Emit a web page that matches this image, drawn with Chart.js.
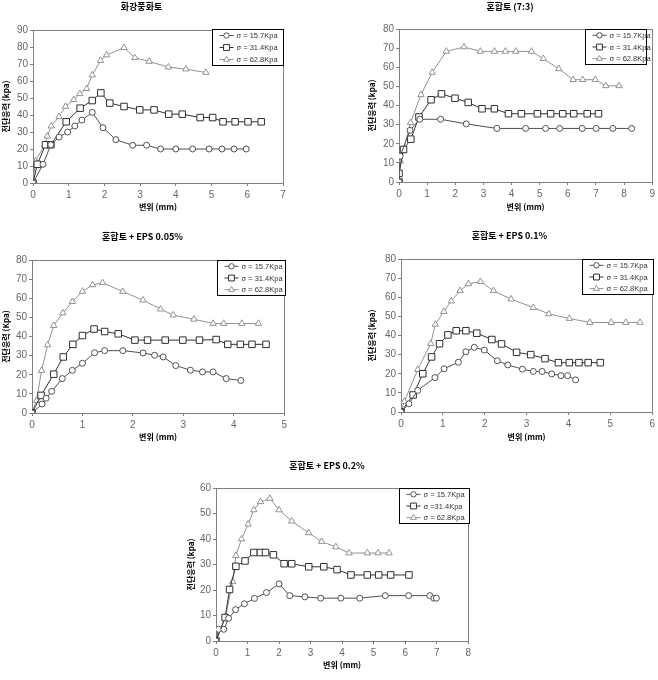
<!DOCTYPE html>
<html>
<head>
<meta charset="utf-8">
<script src="https://cdn.jsdelivr.net/npm/chart.js@4.4.1/dist/chart.umd.min.js"></script>
<style>
  body { margin: 0; background: #fff; width: 658px; height: 680px; position: relative; overflow: hidden; }
  canvas { position: absolute; }
</style>
</head>
<body>
<div id="wrap"></div>
<script>
// values: [displacement mm, shear stress kPa]
// 화강풍화토
const granite157 = [[0,0],[0.28,11],[0.5,22.5],[0.73,27],[0.97,30],[1.17,33.5],[1.37,37],[1.66,41.5],[1.96,32.5],[2.32,25.5],[2.79,22.2],[3.18,22.2],[3.57,20],[4.0,20],[4.47,20],[4.93,20],[5.29,20],[5.63,20],[5.97,20]];
const granite314 = [[0,0],[0.12,11],[0.35,22.5],[0.5,22.5],[0.93,36],[1.32,44],[1.66,48.5],[1.9,53],[2.15,47],[2.55,45],[2.99,43],[3.39,43],[3.8,40.5],[4.18,40.5],[4.68,38.5],[5.03,38.5],[5.32,36],[5.66,36],[6.02,36],[6.39,36]];
const granite628 = [[0,0],[0.07,13],[0.33,22.5],[0.4,27.5],[0.51,33.5],[0.73,39],[0.91,45],[1.14,49],[1.31,52.5],[1.5,55.5],[1.66,63.5],[1.89,72],[2.06,75.3],[2.55,79.6],[2.85,73.7],[3.25,71.5],[3.79,68.2],[4.28,67],[4.84,65]];

// 혼합토 (7:3)
const mix157 = [[0,0],[0.04,13.5],[0.39,27],[0.74,32.8],[1.48,32.8],[2.39,30.4],[3.48,28],[4.5,28],[5.21,28],[5.71,28],[6.51,28],[7.01,28],[7.6,28],[8.27,28]];
const mix314 = [[0,0],[0,4.5],[0.16,17],[0.42,22.4],[0.71,34],[1.14,43],[1.51,46.1],[1.99,43.8],[2.46,41.6],[2.95,38.3],[3.39,38.3],[3.89,35.7],[4.35,35.7],[4.92,35.7],[5.39,35.7],[5.82,35.7],[6.21,35.7],[6.69,35.7],[7.09,35.7]];
const mix628 = [[0,0],[0.05,11],[0.41,31],[0.78,45.6],[1.18,57.3],[1.68,68.3],[2.31,70.6],[2.89,68.3],[3.39,68.3],[3.78,68.3],[4.15,68.3],[4.71,68.3],[5.13,64.5],[5.68,59.2],[6.19,53.5],[6.53,53.5],[6.98,53.5],[7.35,50.3],[7.82,50.3]];

// 혼합토 + EPS 0.05%
const eps005_157 = [[0,0],[0.2,4.7],[0.28,7.7],[0.39,11.3],[0.6,18],[0.8,22.3],[1.0,26],[1.24,31.5],[1.44,32.6],[1.8,32.6],[2.2,31.4],[2.43,30.2],[2.6,29.3],[2.85,24.8],[3.14,22.4],[3.38,21.5],[3.59,21.5],[3.85,18],[4.14,17]];
const eps005_314 = [[0,0],[0.18,9.2],[0.43,20.3],[0.62,29.3],[0.81,35.9],[1.0,40.5],[1.23,43.9],[1.44,42.6],[1.71,41.4],[2.04,38.1],[2.29,38.1],[2.64,38.1],[2.99,38.1],[3.32,38.1],[3.65,38.4],[3.88,35.9],[4.13,35.9],[4.36,35.9],[4.64,35.9]];
const eps005_628 = [[0,0],[0.09,6.5],[0.19,22.2],[0.31,35.6],[0.43,45.7],[0.61,52.3],[0.8,58.2],[1.0,63.6],[1.2,67],[1.4,68.1],[1.8,63.5],[2.2,59],[2.55,54.3],[2.8,51.2],[3.21,49],[3.59,46.8],[3.8,46.8],[4.16,46.8],[4.49,46.8]];

// 혼합토 + EPS 0.1%
const eps01_157 = [[0,0],[0.19,4.3],[0.4,11.3],[0.81,18],[1.03,22.6],[1.37,26],[1.55,31.5],[1.75,33.8],[1.99,32.4],[2.3,26.8],[2.55,24.6],[2.9,22.4],[3.16,21.2],[3.37,21.2],[3.6,19.9],[3.82,19],[3.98,19],[4.17,16.8]];
const eps01_314 = [[0,0],[0.29,8.9],[0.52,20],[0.73,28.8],[0.92,35.7],[1.12,40.3],[1.32,42.5],[1.55,42.5],[1.81,41.2],[2.17,37.9],[2.4,35.6],[2.76,31.2],[3.1,30],[3.44,27.9],[3.76,25.8],[4.02,25.8],[4.25,25.8],[4.47,25.8],[4.76,25.8]];
const eps01_628 = [[0,0],[0.08,5.5],[0.4,22.2],[0.71,35.8],[0.82,45.8],[1.02,52.5],[1.2,58],[1.41,63.4],[1.61,67],[1.9,68.2],[2.21,63.4],[2.63,59],[3.16,54.6],[3.53,51.3],[4.02,48.9],[4.51,46.8],[5.02,46.8],[5.37,46.8],[5.71,46.8]];

// 혼합토 + EPS 0.2%
const eps02_157 = [[0,0],[0.08,4.6],[0.25,4.6],[0.4,8.9],[0.62,12.3],[0.9,14.6],[1.22,16.7],[1.6,19],[2.0,22.4],[2.34,17.8],[2.82,17.3],[3.32,16.8],[3.96,16.8],[4.56,16.8],[5.37,17.8],[6.11,17.8],[6.78,17.8],[6.91,16.8],[6.99,16.8]];
const eps02_314 = [[0,0],[0.29,9.2],[0.43,20.2],[0.63,29.3],[0.92,31.4],[1.2,34.7],[1.41,34.7],[1.57,34.7],[1.82,33.8],[2.16,30.3],[2.4,30.3],[2.94,29.1],[3.42,29.1],[3.84,28],[4.28,25.9],[4.8,25.9],[5.16,25.9],[5.54,25.9],[6.12,25.9]];
const eps02_628 = [[0,0],[0.3,9.5],[0.53,23.3],[0.63,33.5],[0.81,40],[1.02,45.8],[1.2,51.4],[1.41,54.6],[1.71,55.9],[2.0,51.4],[2.4,47],[2.94,42.4],[3.35,39],[3.8,36.9],[4.22,34.5],[4.8,34.5],[5.14,34.5],[5.49,34.5]];

const legendLabels = ['σ = 15.7Kpa', 'σ = 31.4Kpa', 'σ = 62.8Kpa'];
const legendLabels5 = ['σ = 15.7Kpa', 'σ =31.4Kpa', 'σ = 62.8Kpa'];

const seriesColors = ['#505050', '#303030', '#929292'];
const pointStyles = ['circle', 'rect', 'triangle'];
const pointSizes = [3, 4.6, 3.7];

const KR = '"Noto Sans CJK KR", "Noto Sans", sans-serif';
const NUM = '"Liberation Sans", Arial, sans-serif';

// page layout (px): canvas [left, top, right, bottom], plot [left, top, right, bottom], legend [left, top, w, h]
const panels = [
  { title: '화강풍화토', yTitle: '전단응력 (kpa)', xMax: 7, yMax: 90,
    series: [granite157, granite314, granite628], labels: legendLabels,
    canvas: [0, 0, 290, 215], plot: [33, 30, 283, 183], titleY: 7, legend: [212, 29, 71, 36] },
  { title: '혼합토 (7:3)', yTitle: '전단응력 (kpa)', xMax: 9, yMax: 80,
    series: [mix157, mix314, mix628], labels: legendLabels,
    canvas: [366, 0, 658, 215], plot: [399, 29, 654, 182], titleY: 7, legend: [585, 29, 61, 35] },
  { title: '혼합토 + EPS 0.05%', yTitle: '전단응력 (Kpa)', xMax: 5, yMax: 80,
    series: [eps005_157, eps005_314, eps005_628], labels: legendLabels,
    canvas: [0, 229, 290, 445], plot: [32, 260, 285, 413], titleY: 237, legend: [217, 260, 68, 35] },
  { title: '혼합토 + EPS 0.1%', yTitle: '전단응력 (kpa)', xMax: 6, yMax: 80,
    series: [eps01_157, eps01_314, eps01_628], labels: legendLabels,
    canvas: [366, 228, 658, 445], plot: [401, 259, 653, 412], titleY: 236, legend: [582, 259, 71, 35] },
  { title: '혼합토 + EPS 0.2%', yTitle: '전단응력 (kpa)', xMax: 8, yMax: 60,
    series: [eps02_157, eps02_314, eps02_628], labels: legendLabels5,
    canvas: [185, 458, 474, 673], plot: [216, 488, 469, 641], titleY: 466, legend: [399, 488, 70, 35] }
];

function drawMarker(ctx, style, x, y, r) {
  ctx.beginPath();
  if (style === 'circle') {
    ctx.arc(x, y, r, 0, Math.PI * 2);
  } else if (style === 'rect') {
    const s = r * Math.SQRT1_2;
    ctx.rect(x - s, y - s, 2 * s, 2 * s);
  } else {
    ctx.moveTo(x, y - r);
    ctx.lineTo(x + r * 0.866, y + r * 0.5);
    ctx.lineTo(x - r * 0.866, y + r * 0.5);
    ctx.closePath();
  }
  ctx.fill();
  ctx.stroke();
}

// frame around plot area + legend box inside the top-right corner
const framePlugin = {
  id: 'frameLegend',
  beforeDatasetsDraw(chart) {
    const a = chart.chartArea;
    const ctx = chart.ctx;
    ctx.save();
    ctx.strokeStyle = '#808080';
    ctx.lineWidth = 1;
    ctx.strokeRect(Math.round(a.left) + 0.5, Math.round(a.top) + 0.5, Math.round(a.right - a.left), Math.round(a.bottom - a.top));
    ctx.restore();
  },
  afterDraw(chart, args, opts) {
    const ctx = chart.ctx;
    const [lx, ly, lw, lh] = opts.box;
    const x0 = Math.round(lx - opts.offset[0]) + 0.5;
    const y0 = Math.round(ly - opts.offset[1]) + 0.5;
    ctx.save();
    ctx.fillStyle = '#fff';
    ctx.fillRect(x0, y0, lw, lh);
    ctx.strokeStyle = '#000';
    ctx.lineWidth = 1;
    ctx.strokeRect(x0, y0, lw, lh);
    chart.data.datasets.forEach((ds, i) => {
      const y = y0 + lh * (2 * i + 1) / 6;
      ctx.strokeStyle = ds.borderColor;
      ctx.beginPath();
      ctx.moveTo(x0 + 7, y);
      ctx.lineTo(x0 + 21, y);
      ctx.stroke();
      ctx.fillStyle = '#fff';
      drawMarker(ctx, pointStyles[i], x0 + 14, y, pointSizes[i] * 0.9);
      ctx.fillStyle = '#333';
      ctx.font = '7.5px ' + NUM;
      ctx.textBaseline = 'middle';
      ctx.textAlign = 'left';
      ctx.fillText(ds.label, x0 + 24, y + 0.5);
    });
    ctx.restore();
  }
};

const wrap = document.getElementById('wrap');

panels.forEach((p, n) => {
  const [cl, ct, cr, cb] = p.canvas;
  const [pl, pt, pr, pb] = p.plot;
  const cv = document.createElement('canvas');
  cv.width = cr - cl;
  cv.height = cb - ct;
  cv.style.left = cl + 'px';
  cv.style.top = ct + 'px';
  wrap.appendChild(cv);

  const titleLine = 9 * 1.2;
  const titleTop = p.titleY - ct - titleLine / 2;
  const titleBottom = pt - ct - titleTop - titleLine;

  new Chart(cv.getContext('2d'), {
    type: 'line',
    data: {
      datasets: p.series.map((s, i) => ({
        label: p.labels[i],
        data: s.map(d => ({ x: d[0], y: d[1] })),
        borderColor: seriesColors[i],
        backgroundColor: '#fff',
        borderWidth: 1,
        tension: 0,
        pointStyle: pointStyles[i],
        pointRadius: pointSizes[i],
        pointBackgroundColor: '#fff',
        pointBorderColor: seriesColors[i],
        pointBorderWidth: 1
      }))
    },
    options: {
      responsive: false,
      animation: false,
      devicePixelRatio: 1,
      layout: { padding: { left: 0, right: cr - pr, top: 0, bottom: 0 } },
      plugins: {
        legend: { display: false },
        tooltip: { enabled: false },
        title: {
          display: true,
          text: p.title,
          color: '#000',
          font: { family: KR, size: 9, weight: 'bold' },
          padding: { top: titleTop, bottom: titleBottom }
        },
        frameLegend: { box: p.legend, offset: [cl, ct] }
      },
      scales: {
        x: {
          type: 'linear',
          min: 0,
          max: p.xMax,
          afterFit: s => { s.height = cb - pb; },
          ticks: { stepSize: 1, color: '#666', font: { family: NUM, size: 10 }, padding: 3, maxRotation: 0 },
          grid: { drawOnChartArea: false, drawTicks: true, tickLength: 3, color: '#808080' },
          border: { display: true, color: '#808080' },
          title: { display: true, text: '변위 (mm)', color: '#000', font: { family: KR, size: 8, weight: 'bold' }, padding: { top: 0, bottom: 3 } }
        },
        y: {
          min: 0,
          max: p.yMax,
          afterFit: s => { s.width = pl - cl; },
          ticks: { stepSize: 10, color: '#666', font: { family: NUM, size: 10 }, padding: 2 },
          grid: { drawOnChartArea: false, drawTicks: true, tickLength: 3, color: '#808080' },
          border: { display: true, color: '#808080' },
          title: { display: true, text: p.yTitle, color: '#000', font: { family: KR, size: 8, weight: 'bold' }, padding: { top: 1, bottom: 0 } }
        }
      }
    },
    plugins: [framePlugin]
  });
});
</script>
</body>
</html>
